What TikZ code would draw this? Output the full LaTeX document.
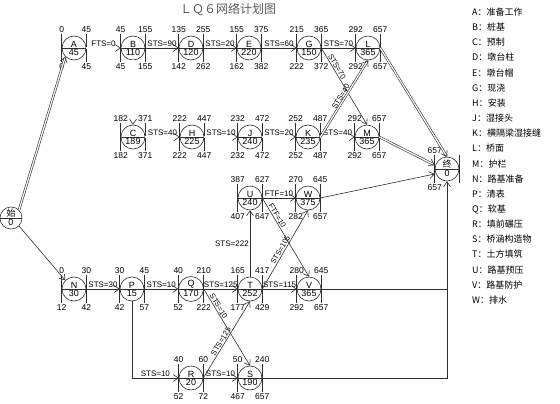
\documentclass[tikz,border=0pt]{standalone}
\usepackage{fontspec}
\setmainfont{Liberation Sans}
\newfontfamily\cjk{Noto Sans CJK SC}
\usepackage{tikz}
\usetikzlibrary{arrows.meta,shapes.multipart}
\definecolor{NetLine}{HTML}{2E2E2E}
\definecolor{NetTitle}{HTML}{5A5A5A}

\newcommand{\activity}[8]{%
  \node[act] (#1) at (#2) {#3\nodepart{lower}#4};
  \draw[bar] ([yshift=14pt]#1.west) -- ([yshift=-14pt]#1.west);
  \draw[bar] ([yshift=14pt]#1.east) -- ([yshift=-14pt]#1.east);
  \node[num, above] (#1es) at ([yshift=14pt]#1.west) {#5};
  \node[num, above] (#1ef) at ([yshift=14pt]#1.east) {#6};
  \node[num, below] (#1ls) at ([yshift=-14pt]#1.west) {#7};
  \node[num, below] (#1lf) at ([yshift=-14pt]#1.east) {#8};
}

\begin{document}
\begin{tikzpicture}[
    x=1pt, y=-1pt,
    act/.style={circle split, draw=NetLine, line width=0.6pt, minimum size=24pt,
      inner sep=0.6pt, font=\fontsize{9}{9}\selectfont},
    bar/.style={draw=NetLine, line width=0.6pt},
    num/.style={inner sep=1pt, font=\fontsize{8.5}{8.5}\selectfont},
    lag/.style={inner sep=1pt, font=\fontsize{8}{8}\selectfont},
    slag/.style={lag, sloped, above, font=\fontsize{7.5}{7.5}\selectfont},
    arr/.style={-{Straight Barb[length=5pt,width=7pt]}, line width=0.6pt, draw=NetLine},
    crit/.style={arr, double, double distance=1.2pt},
    legentry/.style={anchor=west, inner sep=0pt, font=\cjk\fontsize{9}{9}\selectfont}
  ]
    \useasboundingbox (0,0) rectangle (560,404);
    \node[font=\cjk\fontsize{12}{12}\selectfont, text=NetTitle] (title) at (228,9) {ＬＱ６网络计划图};

    \activity{A}{74,48}{A}{45}{0}{45}{0}{45}
    \activity{B}{133,48}{B}{110}{45}{155}{45}{155}
    \activity{D}{191,48}{D}{120}{135}{255}{142}{262}
    \activity{E}{249,48}{E}{220}{155}{375}{162}{382}
    \activity{G}{309,48}{G}{150}{215}{365}{222}{372}
    \activity{L}{368,48}{L}{365}{292}{657}{292}{657}
    \activity{C}{133,137}{C}{189}{182}{371}{182}{371}
    \activity{H}{192,137}{H}{225}{222}{447}{222}{447}
    \activity{J}{250,137}{J}{240}{232}{472}{232}{472}
    \activity{K}{308,137}{K}{235}{252}{487}{252}{487}
    \activity{M}{367,137}{M}{365}{292}{657}{292}{657}
    \activity{U}{250,198}{U}{240}{387}{627}{407}{647}
    \activity{W}{308,198}{W}{375}{270}{645}{282}{657}
    \activity{N}{74,289}{N}{30}{0}{30}{12}{42}
    \activity{P}{132,289}{P}{15}{30}{45}{42}{57}
    \activity{Q}{191,289}{Q}{170}{40}{210}{52}{222}
    \activity{T}{250,289}{T}{252}{165}{417}{177}{429}
    \activity{V}{309,289}{V}{365}{280}{645}{292}{657}
    \activity{R}{191,378}{R}{20}{40}{60}{52}{72}
    \activity{S}{250,378}{S}{190}{50}{240}{467}{657}
    \activity{Z}{447,169}{{\cjk 终}}{0}{657}{}{657}{}
    \node[act, minimum size=22pt] (start) at (11,218) {{\cjk 始}\nodepart{lower}0};
    \coordinate (sink) at (447,378);

    \draw[crit] (start.north east) -- (A.south west);
    \draw[arr] (start.south east) -- (N.north west);
    \draw[crit] (A.east) -- node[lag, above] {FTS=0} (B.west);
    \draw[arr] (B.east) -- node[lag, above] {STS=90} (D.west);
    \draw[arr] (D.east) -- node[lag, above] {STS=20} (E.west);
    \draw[arr] (E.east) -- node[lag, above] {STS=60} (G.west);
    \draw[arr] (G.east) -- node[lag, above] {STS=70} (L.west);
    \draw[crit] (B.south) -- (C.north);
    \draw[arr] (G.east) -- node[slag, pos=0.27] {STS=70} (M.north);
    \draw[crit] (C.east) -- node[lag, above] {STS=40} (H.west);
    \draw[crit] (H.east) -- node[lag, above] {STS=10} (J.west);
    \draw[crit] (J.east) -- node[lag, above] {STS=20} (K.west);
    \draw[crit] (K.east) -- node[lag, above] {STS=40} (M.west);
    \draw[crit] (K.east) -- node[slag, pos=0.5] {STS=40} (L.south);
    \draw[crit] (L.east) -- (Z.north);
    \draw[crit] (M.east) -- ([yshift=4pt]Z.west);
    \draw[arr] (U.east) -- node[lag, above] {FTF=10} (W.west);
    \draw[arr] (W.east) -- ([yshift=-5pt]Z.west);
    \draw[arr] (N.east) -- node[lag, above] {STS=30} (P.west);
    \draw[arr] (P.east) -- node[lag, above] {STS=10} (Q.west);
    \draw[arr] (Q.east) -- node[lag, above] {STS=125} (T.west);
    \draw[arr] (T.east) -- node[lag, above] {STS=115} (V.west);
    \draw[arr] (T.north) -- node[lag, left] {STS=222} (U.south);
    \draw[arr] (T.east) -- node[slag, pos=0.47] {STS=105} (W.south);
    \draw[arr] (U.east) -- node[slag, pos=0.25] {FTF=10} (V.north);
    \draw[arr] (P.south) |- node[lag, above, pos=0.75] {STS=10} (R.west);
    \draw[arr] (R.east) -- node[lag, above] {STS=10} (S.west);
    \draw[arr] (R.east) -- node[slag, pos=0.45] {STS=125} (T.south);
    \draw[arr] (Q.east) -- node[slag, pos=0.25] {STS=10} (S.north);
    \draw[bar] (V.east) -- (V.east -| sink);
    \draw[arr] (S.east) -- (sink) -- (Z.south);

    \foreach \l/\t [count=\i from 0] in {A/准备工作, B/桩基, C/预制, D/墩台柱,
        E/墩台帽, G/现浇, H/安装, J/湿接头, K/横隔梁湿接缝, L/桥面, M/护栏,
        N/路基准备, P/清表, Q/软基, R/填前碾压, S/桥涵构造物, T/土方填筑,
        U/路基预压, V/路基防护, W/排水}
      \node[legentry] (leg\i) at (472,{12+15.16*\i}) {\l：\t};
  \end{tikzpicture}
\end{document}
